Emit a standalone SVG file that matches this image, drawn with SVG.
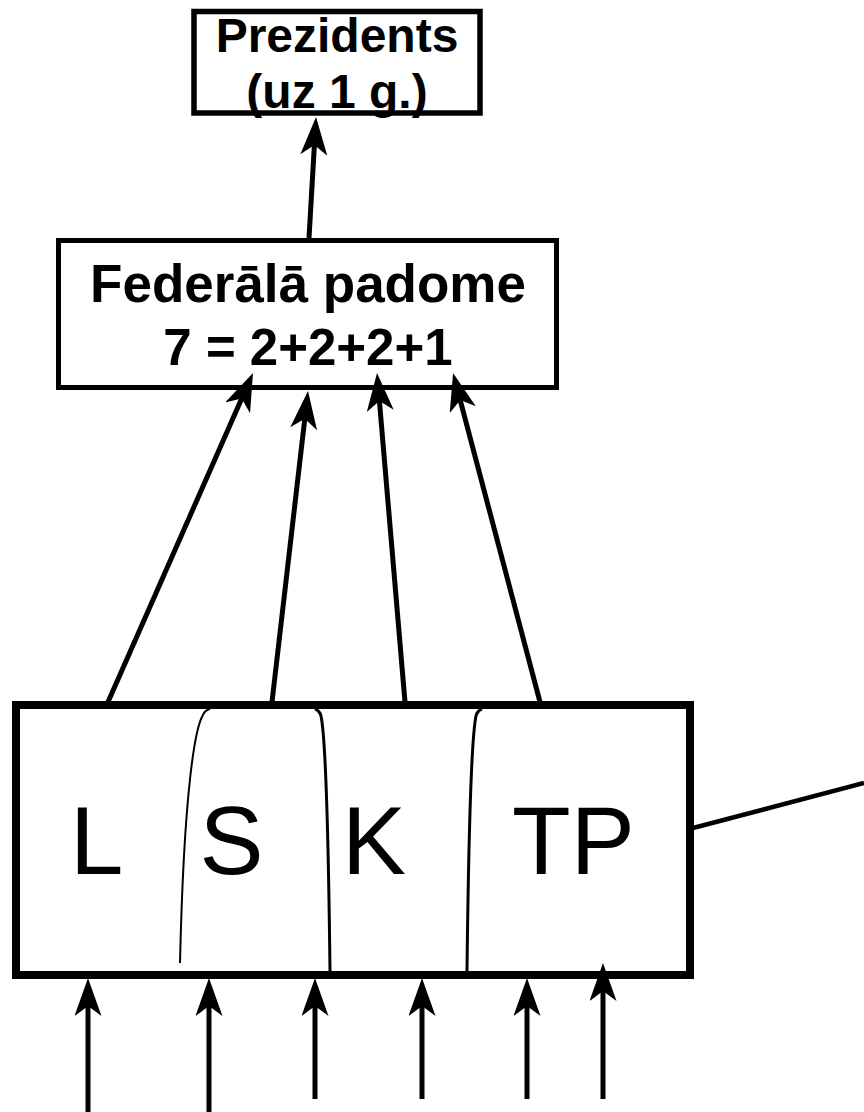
<svg xmlns="http://www.w3.org/2000/svg" width="864" height="1112" viewBox="0 0 864 1112">
<style>
.box{fill:#fff;stroke:#000}
.lbl{font-family:"Liberation Sans",Arial,sans-serif;font-weight:bold;fill:#000;text-anchor:middle}
.big{font-family:"Liberation Sans",Arial,sans-serif;font-size:96px;fill:#000}
.arr{stroke:#000;stroke-width:5;fill:none;marker-end:url(#ah)}
.div{stroke:#000;fill:none}
</style>
<defs>
<marker id="ah" markerUnits="userSpaceOnUse" markerWidth="38" markerHeight="27" viewBox="0 0 38 27" refX="10" refY="13.5" orient="auto">
<path d="M38,13.5 L0,0 L10,13.5 L0,27 Z" fill="#000"/>
</marker>
</defs>
<g id="prezidents">
<rect class="box" x="194" y="11.5" width="286" height="101.5" stroke-width="5.5"/>
<text class="lbl" x="337" y="52" font-size="48">Prezidents</text>
<text class="lbl" x="337" y="108" font-size="48">(uz 1 g.)</text>
</g>
<g id="federala-padome">
<rect class="box" x="58.5" y="240.5" width="498" height="147" stroke-width="5"/>
<text class="lbl" x="308" y="302" font-size="53">Federālā padome</text>
<text class="lbl" x="308" y="365" font-size="51">7 = 2+2+2+1</text>
</g>
<g id="kantoni">
<rect class="box" x="16" y="705" width="674" height="270" stroke-width="8"/>
<path class="div" stroke-width="2" d="M210,709 C206,710 204,712 203,715 C195,728 184,790 180,963"/>
<path class="div" stroke-width="3" d="M315,709 C318,710 320,712 321,716 C325,735 328,800 330,971"/>
<path class="div" stroke-width="3" d="M482,709 C479,710 477,712 476,716 C472,735 469,800 467,971"/>
<text class="big" x="70" y="874">L</text>
<text class="big" x="199.5" y="874">S</text>
<text class="big" x="342" y="874">K</text>
<text class="big" x="512" y="874">TP</text>
</g>
<g id="connectors">
<line class="arr" x1="309" y1="238" x2="314.4" y2="145"/>
<line class="arr" x1="108" y1="702" x2="241.7" y2="398.6"/>
<line class="arr" x1="272" y1="702" x2="304.8" y2="418.8"/>
<line class="arr" x1="405" y1="702" x2="379.4" y2="400.9"/>
<line class="arr" x1="540" y1="702" x2="460.2" y2="400.1"/>
<line class="arr" x1="88" y1="1112" x2="88" y2="1006"/>
<line class="arr" x1="209" y1="1112" x2="209" y2="1006"/>
<line class="arr" x1="315" y1="1099" x2="315" y2="1006"/>
<line class="arr" x1="422" y1="1099" x2="422" y2="1006"/>
<line class="arr" x1="527" y1="1099" x2="527" y2="1006"/>
<line class="arr" x1="603" y1="1099" x2="603" y2="991"/>
<line stroke="#000" stroke-width="4.5" x1="693" y1="828" x2="864" y2="783"/>
</g>
</svg>
